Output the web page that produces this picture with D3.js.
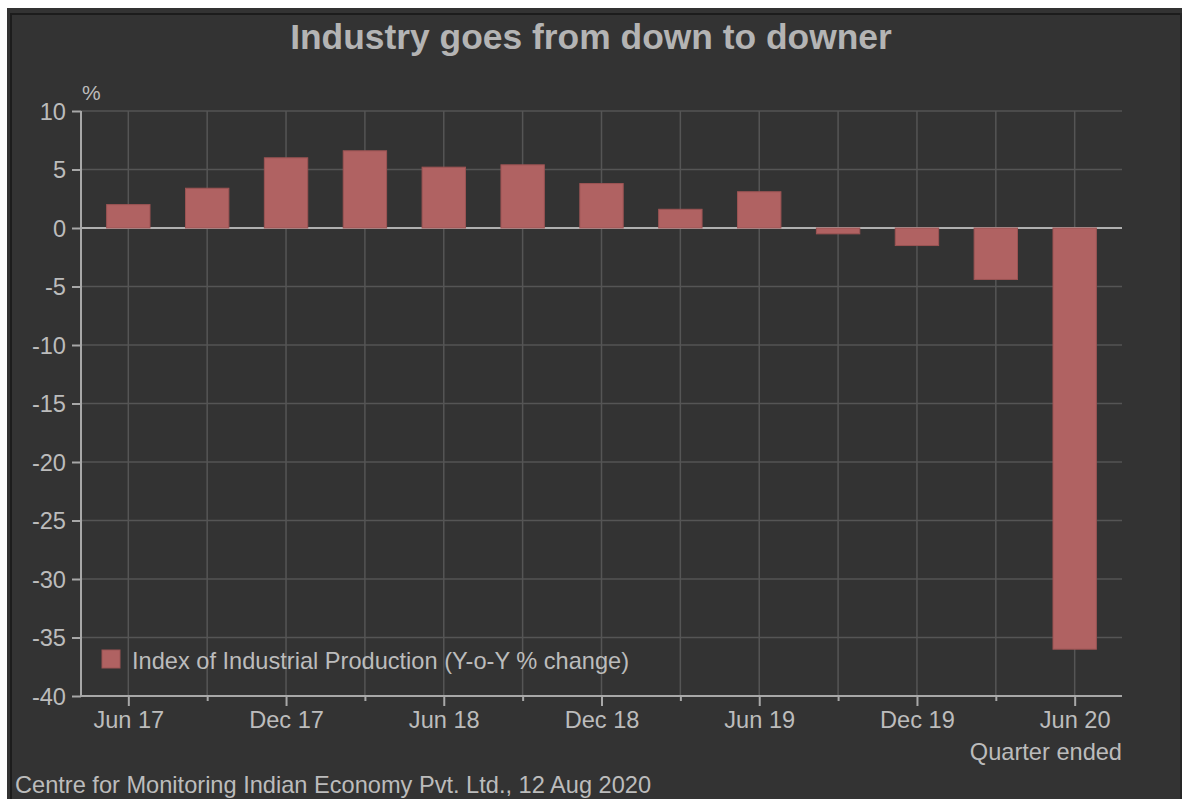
<!DOCTYPE html>
<html>
<head>
<meta charset="utf-8">
<script src="https://cdn.jsdelivr.net/npm/d3@7/dist/d3.min.js"></script>
<style>
  html, body { margin: 0; padding: 0; background: #ffffff; }
  svg { display: block; }
  text { font-family: "Liberation Sans", Arial, sans-serif; }
</style>
</head>
<body>
<svg id="chart" width="1182" height="799"></svg>
<script>
// Quarter-end periods and year-on-year change of the Index of Industrial Production (%)
const quarters = ["Jun 17", "Sep 17", "Dec 17", "Mar 18", "Jun 18", "Sep 18", "Dec 18",
                  "Mar 19", "Jun 19", "Sep 19", "Dec 19", "Mar 20", "Jun 20"];
const iipGrowth = [2.0, 3.4, 6.0, 6.6, 5.2, 5.4, 3.8, 1.6, 3.1, -0.5, -1.5, -4.4, -36.0];
const labelledQuarters = ["Jun 17", "Dec 17", "Jun 18", "Dec 18", "Jun 19", "Dec 19", "Jun 20"];
const yTicks = [10, 5, 0, -5, -10, -15, -20, -25, -30, -35, -40];

const titleText = "Industry goes from down to downer";
const seriesName = "Index of Industrial Production (Y-o-Y % change)";
const xAxisTitle = "Quarter ended";
const yUnit = "%";
const sourceText = "Centre for Monitoring Indian Economy Pvt. Ltd., 12 Aug 2020";

const W = 1182, H = 799;
const plot = { left: 81, right: 1122, top: 111, bottom: 696 };
const textColor = "#bcbcbc";
const gridColor = "#555555";
const axisColor = "#a8a8a8";
const barColor = "#b06262";
const fontSize = 23.6;

const svg = d3.select("#chart");

// Panel background and its dark frame
svg.append("rect").attr("x", 7).attr("y", 8).attr("width", W - 7).attr("height", H - 8).attr("fill", "#333333");
svg.append("rect").attr("x", 10).attr("y", 13).attr("width", W - 10).attr("height", 2).attr("fill", "#1c1c1c");
svg.append("rect").attr("x", 10).attr("y", 13).attr("width", 2).attr("height", H - 13).attr("fill", "#1c1c1c");
svg.append("rect").attr("x", W - 2).attr("y", 13).attr("width", 2).attr("height", H - 13).attr("fill", "#262626");

const x = d3.scalePoint().domain(quarters).range([plot.left, plot.right]).padding(0.6);
const y = d3.scaleLinear().domain([-40, 10]).range([plot.bottom, plot.top]);
const barW = x.step() * 0.55;

// Grid lines
const grid = svg.append("g");
grid.selectAll("line.h").data(yTicks.filter(d => d !== 0 && d !== -40)).join("line")
  .attr("x1", plot.left).attr("x2", plot.right)
  .attr("y1", d => y(d)).attr("y2", d => y(d))
  .attr("stroke", gridColor).attr("stroke-width", 1.5);
grid.selectAll("line.v").data(quarters).join("line")
  .attr("x1", d => x(d)).attr("x2", d => x(d))
  .attr("y1", plot.top).attr("y2", plot.bottom)
  .attr("stroke", gridColor).attr("stroke-width", 1.5);

// Zero line
svg.append("line")
  .attr("x1", plot.left).attr("x2", plot.right)
  .attr("y1", y(0)).attr("y2", y(0))
  .attr("stroke", "#b0b0b0").attr("stroke-width", 2);

// Bars
svg.append("g").selectAll("rect").data(quarters).join("rect")
  .attr("x", d => x(d) - barW / 2)
  .attr("width", barW)
  .attr("y", (d, i) => y(Math.max(0, iipGrowth[i])))
  .attr("height", (d, i) => Math.abs(y(iipGrowth[i]) - y(0)))
  .attr("fill", barColor)
  .attr("stroke", "#9c5454").attr("stroke-width", 1);

// Y axis (plain hyphen for negative numbers)
const yAxis = svg.append("g").attr("transform", `translate(${plot.left},0)`)
  .call(d3.axisLeft(y).tickValues(yTicks).tickSize(9).tickPadding(6).tickFormat(d => String(d)));
yAxis.select(".domain").attr("stroke", axisColor).attr("stroke-width", 2)
  .attr("d", `M0,${plot.top}V${plot.bottom}`);
yAxis.selectAll(".tick line").attr("stroke", axisColor).attr("stroke-width", 2);
yAxis.selectAll(".tick text").attr("fill", textColor).attr("font-size", fontSize)
  .attr("dy", "0.35em");

// X axis: every quarter ticked, half-yearly labels
const xAxis = svg.append("g").attr("transform", `translate(0,${plot.bottom})`)
  .call(d3.axisBottom(x).tickSize(5).tickPadding(8)
    .tickFormat(d => labelledQuarters.includes(d) ? d : ""));
xAxis.select(".domain").attr("stroke", axisColor).attr("stroke-width", 2)
  .attr("d", `M${plot.left},0H${plot.right}`);
xAxis.selectAll(".tick line").attr("stroke", axisColor).attr("stroke-width", 2)
  .attr("y2", d => labelledQuarters.includes(d) ? 10 : 5);
xAxis.selectAll(".tick text").attr("fill", textColor).attr("font-size", fontSize)
  .attr("y", 15).attr("dy", "0.71em");

// Axis captions
svg.append("text").attr("x", 82).attr("y", 100).attr("fill", textColor)
  .attr("font-size", 21).text(yUnit);
svg.append("text").attr("x", plot.right).attr("y", 760).attr("text-anchor", "end")
  .attr("fill", textColor).attr("font-size", fontSize).text(xAxisTitle);

// Title
svg.append("text").attr("x", 591).attr("y", 49).attr("text-anchor", "middle")
  .attr("fill", "#b4b4b4").attr("font-size", 35.4).attr("font-weight", "bold").text(titleText);

// Legend
svg.append("rect").attr("x", 102).attr("y", 650).attr("width", 18).attr("height", 18)
  .attr("fill", barColor).attr("stroke", "#9c5454").attr("stroke-width", 1);
svg.append("text").attr("x", 132).attr("y", 669).attr("fill", textColor)
  .attr("font-size", fontSize).text(seriesName);

// Source
svg.append("text").attr("x", 15).attr("y", 793).attr("fill", textColor)
  .attr("font-size", fontSize).text(sourceText);
</script>
</body>
</html>
